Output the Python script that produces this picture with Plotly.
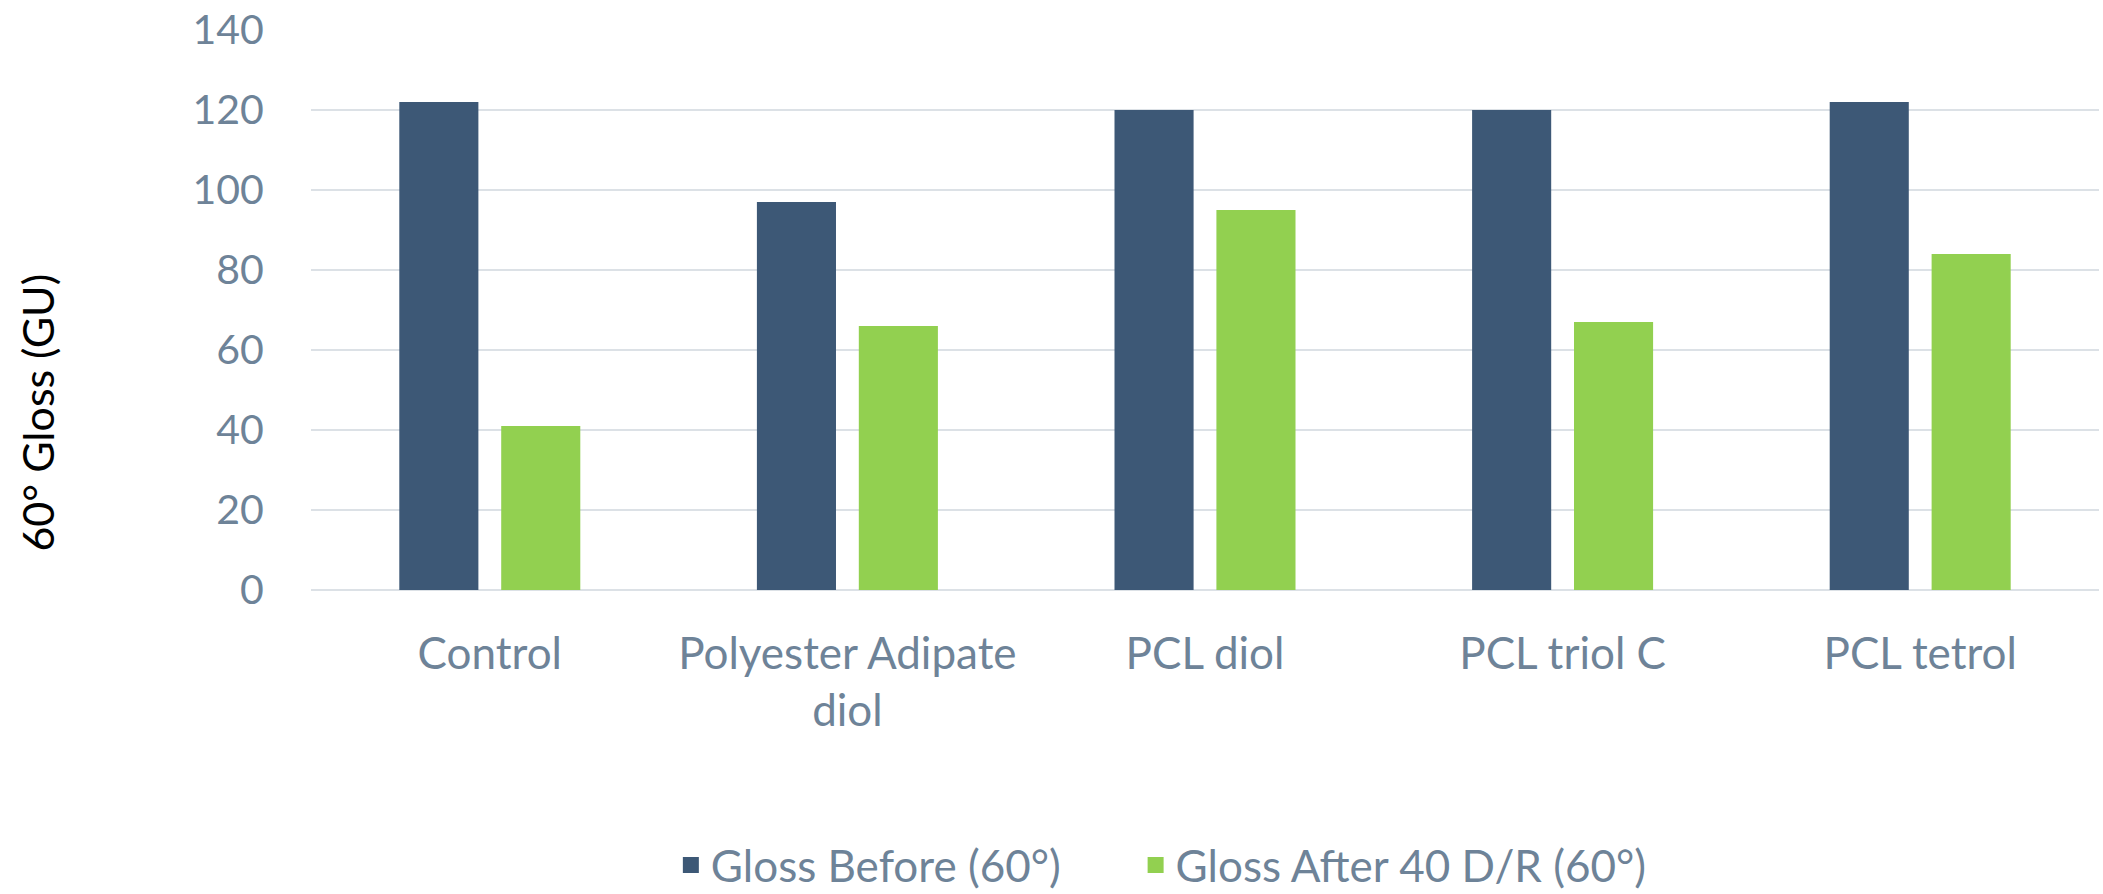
import plotly.graph_objects as go

# Gloss measurements per coating formulation
categories = ["Control", "Polyester Adipate<br>diol", "PCL diol", "PCL triol C", "PCL tetrol"]
gloss_before = [122, 97, 120, 120, 122]
gloss_after = [41, 66, 95, 67, 84]
y_ticks = [0, 20, 40, 60, 80, 100, 120, 140]
series_names = ["Gloss Before (60°)", "Gloss After 40 D/R (60°)"]

NAVY = "#3D5876"
GREEN = "#92D050"
SLATE = "#6E8398"
GRID = "#DCE1E6"
FONT = "Lato"

fig = go.Figure()
for name, values, color, lg in zip(series_names, [gloss_before, gloss_after],
                                   [NAVY, GREEN], ["legend", "legend2"]):
    fig.add_trace(go.Bar(name=name, x=categories, y=values, legendgroup=name,
                         showlegend=False, marker=dict(color=color, line=dict(width=0))))
    # legend entry with a larger square swatch
    fig.add_trace(go.Scatter(name=name, x=[None], y=[None], mode="markers", legendgroup=name,
                             legend=lg, marker=dict(symbol="square", size=30, color=color)))

legend_style = dict(orientation="h", xref="container", yref="container",
                    xanchor="left", yanchor="middle", y=0.032,
                    font=dict(family=FONT, size=44, color=SLATE),
                    itemwidth=30, bgcolor="rgba(0,0,0,0)")

fig.update_layout(
    width=2103, height=894,
    margin=dict(l=311, r=4, t=27, b=304),
    paper_bgcolor="white", plot_bgcolor="white",
    barmode="group", bargap=0.43, bargroupgap=0.224,
    font=dict(family=FONT, size=41, color=SLATE),
    showlegend=True,
    legend=dict(legend_style, x=0.319),
    legend2=dict(legend_style, x=0.540),
    annotations=[dict(text="60° Gloss (GU)", textangle=-90, showarrow=False,
                      xref="paper", yref="paper", x=-0.1535, y=0.316,
                      xanchor="center", yanchor="middle",
                      font=dict(family=FONT, size=43, color="black"))],
)
fig.update_xaxes(
    showline=False, showgrid=False, zeroline=False,
    ticks="outside", ticklen=25, tickcolor="rgba(0,0,0,0)",
    tickfont=dict(family=FONT, size=44, color=SLATE),
)
fig.update_yaxes(
    range=[0, 140], tickvals=y_ticks, showgrid=True, gridcolor=GRID, gridwidth=2,
    zeroline=True, zerolinecolor=GRID, zerolinewidth=2, showline=False,
    ticks="outside", ticklen=38, tickcolor="rgba(0,0,0,0)",
    tickfont=dict(family=FONT, size=41, color=SLATE),
)

fig.write_html("out.html")
